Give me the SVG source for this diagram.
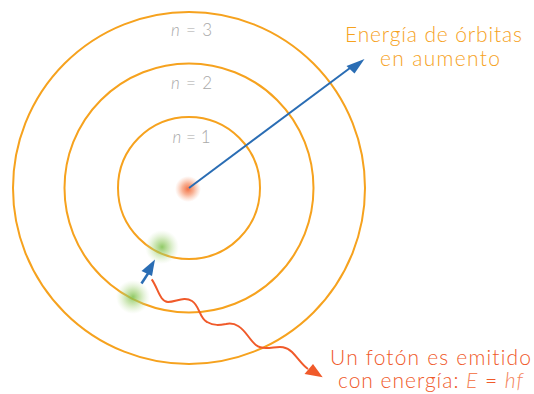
<svg xmlns="http://www.w3.org/2000/svg" width="534" height="394" viewBox="0 0 534 394">
<style>
.orbit{fill:none;stroke:#f6a21e;stroke-width:2}
.nlab{font-family:Lato,"Liberation Sans",sans-serif;font-size:17px;fill:#a9a9a9;text-anchor:middle;font-weight:300}
.lab{font-family:Lato,"Liberation Sans",sans-serif;font-size:21px;font-weight:300;text-anchor:middle;font-variant-ligatures:none}
</style>
<defs>
<radialGradient id="gRed"><stop offset="0" stop-color="#f26a3c" stop-opacity="0.95"/><stop offset="0.45" stop-color="#f47f4f" stop-opacity="0.6"/><stop offset="1" stop-color="#f7a07a" stop-opacity="0"/></radialGradient>
<radialGradient id="gGreen"><stop offset="0" stop-color="#7cc04a" stop-opacity="0.85"/><stop offset="0.45" stop-color="#9ccf6e" stop-opacity="0.5"/><stop offset="1" stop-color="#c2e2a6" stop-opacity="0"/></radialGradient>
</defs>
<g id="orbits">
<circle id="orbit1" class="orbit" cx="189" cy="188" r="71"/>
<circle id="orbit2" class="orbit" cx="189" cy="188" r="124.5"/>
<circle id="orbit3" class="orbit" cx="189" cy="188" r="176"/>
</g>
<g id="nucleus"><circle cx="188" cy="189" r="13" fill="url(#gRed)"/></g>
<g id="electron1"><circle cx="162" cy="247" r="17" fill="url(#gGreen)"/></g>
<g id="electron2"><circle cx="133" cy="297" r="17" fill="url(#gGreen)"/></g>
<g id="labels-n">
<text class="nlab" x="191.5" y="36" textLength="41" lengthAdjust="spacing"><tspan font-style="italic">n</tspan> = 3</text>
<text class="nlab" x="191.5" y="88.5" textLength="41" lengthAdjust="spacing"><tspan font-style="italic">n</tspan> = 2</text>
<text class="nlab" x="191.5" y="143" textLength="38" lengthAdjust="spacing"><tspan font-style="italic">n</tspan> = 1</text>
</g>
<g id="connectors">
<line x1="189" y1="188" x2="350" y2="68" stroke="#2a6db4" stroke-width="2"/>
<path d="M364.5,59 L346.5,66 L354.5,73.5 z" fill="#2a6db4"/>
<line x1="141.5" y1="283.5" x2="149" y2="272" stroke="#2a6db4" stroke-width="2.5"/>
<path d="M155,259.5 L141.5,271 L152,276 z" fill="#2a6db4"/>
<path d="M151.7,279.3 C158,288 160,302 168,302 C176,302 184,296 192,301 C200,306 199,318 207,322 C214,326 220,325 226,324 C236,322 242,328 248,336 C254,344 257,348 266,348 C276,348 284,344 292,352 C298,358 302,365 308,369" fill="none" stroke="#f05a2a" stroke-width="2"/>
<path d="M322.7,377.3 L304.5,374 L313,364 z" fill="#f05a2a"/>
</g>
<g id="label-energy">
<text class="lab" x="433.5" y="42" fill="#f6a21e" textLength="177" lengthAdjust="spacing">Energía de órbitas</text>
<text class="lab" x="440" y="65.5" fill="#f6a21e" textLength="120" lengthAdjust="spacing">en aumento</text>
</g>
<g id="label-photon">
<text class="lab" x="430.5" y="364.5" fill="#f05a2a" textLength="201" lengthAdjust="spacing">Un fotón es emitido</text>
<text class="lab" x="430.5" y="388" fill="#f05a2a" textLength="185" lengthAdjust="spacing">con energía: <tspan font-style="italic" fill="#f4845c">E</tspan> = <tspan font-style="italic" fill="#f4845c">hf</tspan></text>
</g>
</svg>
